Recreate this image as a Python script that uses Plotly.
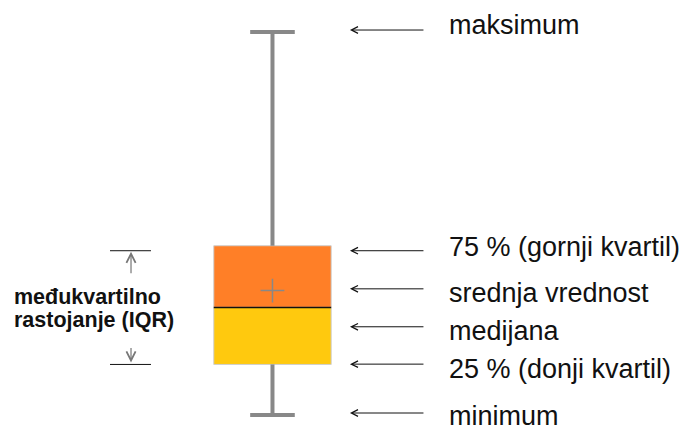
"""
Annotated box plot (Serbian labels) rebuilt with Plotly.
"""
import plotly.graph_objects as go

# Box plot statistics (value scale 0-100)
stat_names = ["maksimum", "q3", "srednja", "medijana", "q1", "minimum"]
stat_values = [100.0, 44.2, 32.5, 28.1, 13.2, 0.0]
label_texts = [
    "maksimum",
    "75 % (gornji kvartil)",
    "srednja vrednost",
    "medijana",
    "25 % (donji kvartil)",
    "minimum",
]
iqr_lines = ["međukvartilno", "rastojanje (IQR)"]

stats = dict(zip(stat_names, stat_values))
v_max, v_q3, v_mean = stats["maksimum"], stats["q3"], stats["srednja"]
v_med, v_q1, v_min = stats["medijana"], stats["q1"], stats["minimum"]

# Colours
COLOR_UPPER = "#FF7F27"   # orange, median -> q3
COLOR_LOWER = "#FFC90E"   # yellow, q1 -> median
COLOR_WHISKER = "#888888"
COLOR_EDGE = "#CFCFCF"
FONT = "Liberation Sans, Arial, sans-serif"

# Layout helpers (x in box-width units, box centred at 0)
CAP = 0.19
ARROW_TIP_X = 0.66
LABEL_X = 1.486
IQR_X = -1.205
# pixel offsets of arrows / texts relative to their statistic (positive = down)
arrow_off = [-2, 5, -1.7, 19.4, -0.3, -2]
text_off = [-7.5, 1.5, 2.5, 23.2, 4.2, 1.0]

fig = go.Figure()

# Box halves
fig.add_trace(go.Bar(
    x=[0], base=[v_q1], y=[v_med - v_q1], width=1,
    marker=dict(color=COLOR_LOWER, line=dict(color=COLOR_EDGE, width=1)),
    hoverinfo="skip",
))
fig.add_trace(go.Bar(
    x=[0], base=[v_med], y=[v_q3 - v_med], width=1,
    marker=dict(color=COLOR_UPPER, line=dict(color=COLOR_EDGE, width=1)),
    hoverinfo="skip",
))

# Whiskers and caps
fig.add_trace(go.Scatter(
    x=[0, 0, None, 0, 0, None, -CAP, CAP, None, -CAP, CAP],
    y=[v_q3, v_max, None, v_min, v_q1, None, v_max, v_max, None, v_min, v_min],
    mode="lines",
    line=dict(color=COLOR_WHISKER, width=4),
    hoverinfo="skip",
))

# Median line
fig.add_trace(go.Scatter(
    x=[-0.5, 0.5], y=[v_med, v_med], mode="lines",
    line=dict(color="#111111", width=1.5), hoverinfo="skip",
))

# Mean marker
fig.add_trace(go.Scatter(
    x=[0], y=[v_mean], mode="markers",
    marker=dict(symbol="cross-thin", size=17,
                line=dict(color=COLOR_WHISKER, width=1.5)),
    hoverinfo="skip",
))

# Right-hand arrows and labels
for val, txt, a_off, t_off in zip(stat_values, label_texts, arrow_off, text_off):
    fig.add_annotation(
        x=ARROW_TIP_X, y=val, yshift=-a_off, text="",
        showarrow=True, ax=75, ay=0, axref="pixel", ayref="pixel",
        arrowhead=5, arrowsize=1.3, arrowwidth=1, arrowcolor="#111111",
        standoff=0, startstandoff=0,
    )
    fig.add_annotation(
        x=LABEL_X, y=val, yshift=-t_off, text=txt, showarrow=False,
        xanchor="left", yanchor="middle",
        font=dict(family=FONT, size=27, color="#111111"),
    )

# IQR bracket on the left
fig.add_shape(type="line", xref="x", yref="y", x0=-1.384, x1=-1.035,
              ysizemode="pixel", yanchor=v_q3, y0=-5, y1=-5,
              line=dict(color="#111111", width=1))
fig.add_shape(type="line", xref="x", yref="y", x0=-1.384, x1=-1.035,
              ysizemode="pixel", yanchor=v_q1, y0=0, y1=0,
              line=dict(color="#111111", width=1))
fig.add_annotation(
    x=IQR_X, y=v_q3, yshift=-6, text="", showarrow=True, ax=0, ay=23,
    arrowhead=5, arrowsize=1.5, arrowwidth=1.2, arrowcolor="#777777",
    standoff=0,
)
fig.add_annotation(
    x=IQR_X, y=v_q1, yshift=2, text="", showarrow=True, ax=0, ay=-16,
    arrowhead=5, arrowsize=1.5, arrowwidth=1.2, arrowcolor="#777777",
    standoff=0,
)
iqr_mid = (v_q1 + v_q3) / 2
for i, line in enumerate(iqr_lines):
    fig.add_annotation(
        x=-2.219, y=iqr_mid, yshift=8.5 - i * 23, text=f"<b>{line}</b>",
        showarrow=False, xanchor="left", yanchor="middle",
        font=dict(family=FONT, size=21.5, color="#111111"),
    )

fig.update_layout(
    width=689, height=432,
    margin=dict(l=0, r=0, t=0, b=0),
    paper_bgcolor="white", plot_bgcolor="white",
    barmode="overlay", showlegend=False,
    xaxis=dict(visible=False, range=[-2.321, 3.548], fixedrange=True),
    yaxis=dict(visible=False, range=[-4.44, 108.36], fixedrange=True),
)

# drop the browser's default 8px body margin so the figure fills the window
fig.write_html(
    "out.html",
    config={"displayModeBar": False},
    post_script="document.body.style.margin='0px';",
)
